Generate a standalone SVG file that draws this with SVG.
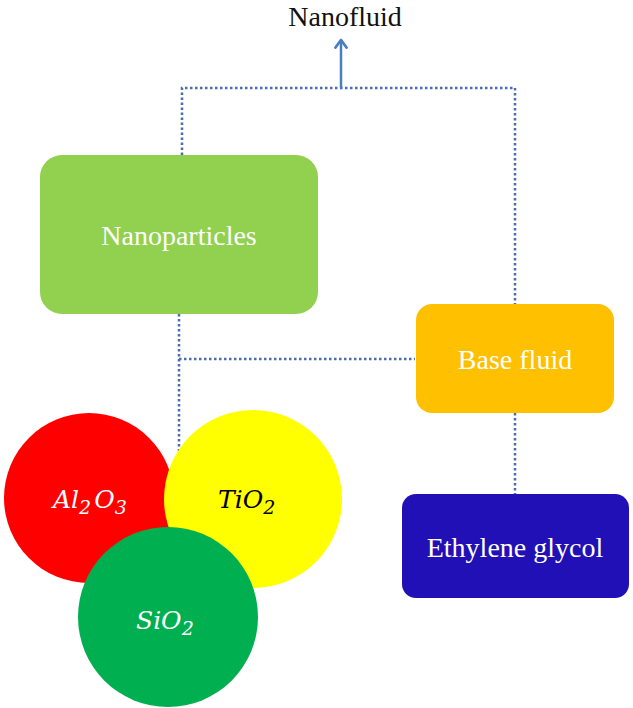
<svg xmlns="http://www.w3.org/2000/svg" width="633" height="708" viewBox="0 0 633 708">
<defs>
<style>
.lbl{font-family:"Liberation Serif","Times New Roman",serif;font-size:28px;text-anchor:middle;fill:#fff}
.math{font-family:"DejaVu Serif","Liberation Serif",serif;font-style:italic;font-size:25px}
.dot{fill:none;stroke:#4A6DAF;stroke-width:2.5;stroke-dasharray:2.5 2.5}
</style>
<marker id="ah" viewBox="0 0 10 10" refX="8" refY="5" markerWidth="5.5" markerHeight="5.5" orient="auto" markerUnits="strokeWidth">
<path d="M2.5,1 L8,5 L2.5,9" fill="none" stroke="#4A7EC1" stroke-width="2" stroke-linecap="round" stroke-linejoin="round"/>
</marker>
</defs>
<rect width="633" height="708" fill="#fff"/>
<g id="connectors">
<path class="dot" d="M182,155 V88 H515 V304"/>
<path class="dot" d="M179,314 V453"/>
<path class="dot" d="M179,359 H415"/>
<path class="dot" d="M515,413 V494"/>
<line x1="341" y1="88" x2="341" y2="40" stroke="#4A7EC1" stroke-width="2.5" marker-end="url(#ah)"/>
</g>
<g id="nanofluid">
<text x="345" y="26" class="lbl" style="fill:#111">Nanofluid</text>
</g>
<g id="nanoparticles">
<rect x="40" y="155" width="278" height="159" rx="22" fill="#92D050"/>
<text x="179" y="245" class="lbl">Nanoparticles</text>
</g>
<g id="basefluid">
<rect x="416" y="304" width="198" height="109" rx="16" fill="#FFC000"/>
<text x="515" y="369" class="lbl">Base fluid</text>
</g>
<g id="ethylene">
<rect x="402" y="494" width="227" height="104" rx="14" fill="#2010B5"/>
<text x="515" y="557" class="lbl">Ethylene glycol</text>
</g>
<g id="al2o3">
<circle cx="89" cy="498" r="85" fill="#FF0000"/>
<text x="53" y="508" class="math" fill="#fff">Al<tspan dy="6" font-size="19">2</tspan><tspan dy="-6" dx="3">O</tspan><tspan dy="6" font-size="19">3</tspan></text>
</g>
<g id="tio2">
<circle cx="253" cy="499" r="89" fill="#FFFF00"/>
<text x="218" y="508" class="math" fill="#000">TiO<tspan dy="6" font-size="19">2</tspan></text>
</g>
<g id="sio2">
<circle cx="168" cy="617" r="90" fill="#00B050"/>
<text x="136" y="629" class="math" fill="#fff">SiO<tspan dy="6" font-size="19">2</tspan></text>
</g>
</svg>
